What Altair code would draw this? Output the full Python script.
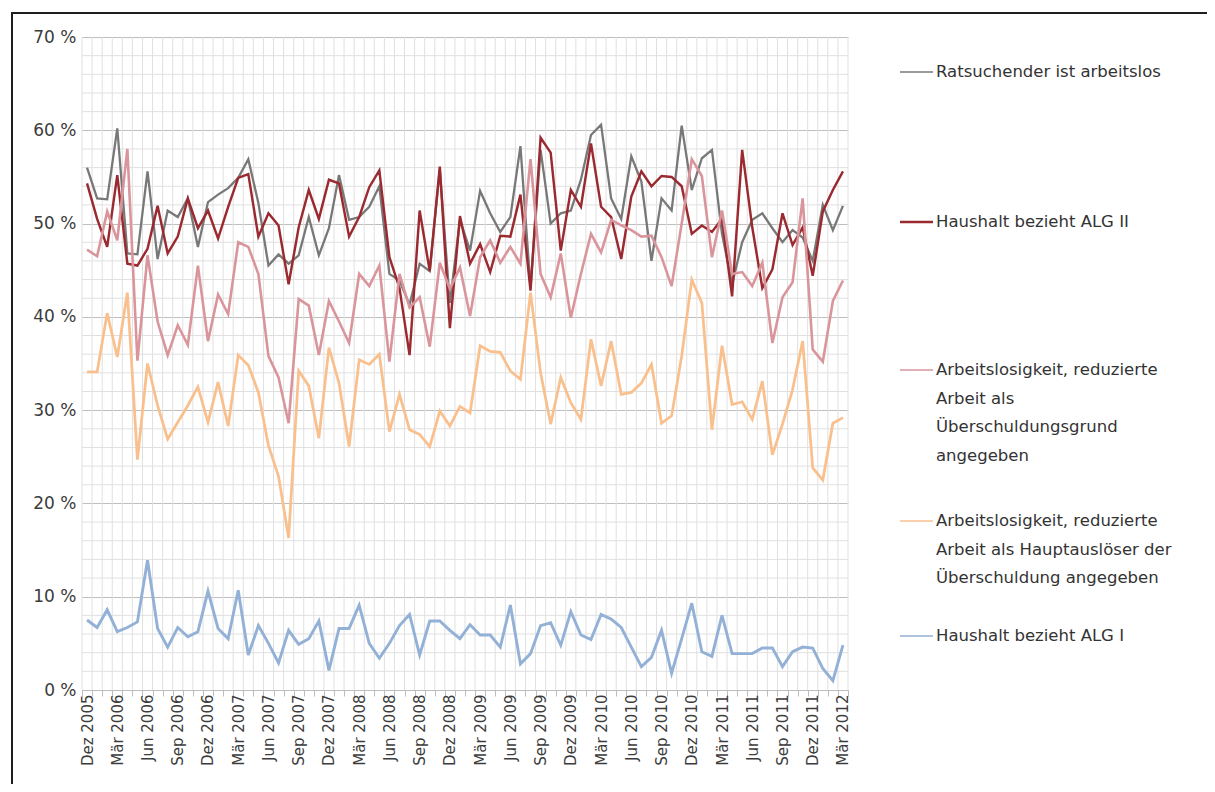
import json
import altair as alt
import pandas as pd

# ---------------- data ----------------
series_names = [
    "Ratsuchender ist arbeitslos",
    "Haushalt bezieht ALG II",
    "Arbeitslosigkeit, reduzierte Arbeit als Überschuldungsgrund angegeben",
    "Arbeitslosigkeit, reduzierte Arbeit als Hauptauslöser der Überschuldung angegeben",
    "Haushalt bezieht ALG I",
]
legend_texts = [
    "Ratsuchender ist arbeitslos",
    "Haushalt bezieht ALG II",
    "Arbeitslosigkeit, reduzierte\nArbeit als\nÜberschuldungsgrund\nangegeben",
    "Arbeitslosigkeit, reduzierte\nArbeit als Hauptauslöser der\nÜberschuldung angegeben",
    "Haushalt bezieht ALG I",
]
colors = ["#787878", "#9b2a30", "#d9959b", "#f9c08e", "#93b1d6"]
widths = [2.3, 2.9, 2.3, 2.3, 2.3]
legend_widths = [1.5, 2.6, 1.5, 1.5, 1.5]

# x-axis tick labels (every third month, Dez 2005 ... Mär 2012)
axis_labels = [
    "Dez 2005", "Mär 2006", "Jun 2006", "Sep 2006", "Dez 2006", "Mär 2007",
    "Jun 2007", "Sep 2007", "Dez 2007", "Mär 2008", "Jun 2008", "Sep 2008",
    "Dez 2008", "Mär 2009", "Jun 2009", "Sep 2009", "Dez 2009", "Mär 2010",
    "Jun 2010", "Sep 2010", "Dez 2010", "Mär 2011", "Jun 2011", "Sep 2011",
    "Dez 2011", "Mär 2012",
]

ratsuchender = [
    56.0, 52.7, 52.6, 60.2, 46.8, 46.7, 55.6, 46.2, 51.4, 50.7, 52.7, 47.5,
    52.3, 53.1, 53.8, 54.9, 56.9, 52.2, 45.5, 46.7, 45.7, 46.6, 50.7, 46.6,
    49.5, 55.2, 50.4, 50.7, 51.8, 54.0, 44.6, 43.9, 41.3, 45.7, 44.9, 55.8,
    41.5, 50.4, 47.1, 53.5, 51.1, 49.1, 50.7, 58.3, 43.1, 57.9, 50.0, 51.1,
    51.4, 54.7, 59.5, 60.6, 52.7, 50.5, 57.2, 54.5, 46.0, 52.7, 51.4, 60.5,
    53.6, 57.0, 57.9, 48.9, 43.5, 48.0, 50.4, 51.1, 49.5, 48.0, 49.3, 48.5,
    46.0, 52.0, 49.3, 51.9,
]
alg2 = [
    54.3, 50.5, 47.5, 55.2, 45.7, 45.5, 47.3, 51.9, 46.8, 48.6, 52.7, 49.5,
    51.4, 48.4, 51.8, 54.9, 55.3, 48.6, 51.1, 49.8, 43.5, 49.6, 53.6, 50.5,
    54.7, 54.3, 48.6, 50.7, 53.9, 55.7, 46.4, 43.1, 35.9, 51.4, 44.9, 56.1,
    38.8, 50.8, 45.7, 47.8, 44.8, 48.7, 48.6, 53.1, 42.8, 59.2, 57.6, 47.1,
    53.6, 51.8, 58.6, 51.8, 50.7, 46.2, 52.9, 55.6, 54.0, 55.1, 55.0, 54.0,
    48.9, 49.8, 49.1, 50.5, 42.2, 57.9, 49.6, 43.1, 45.1, 51.1, 47.7, 49.6,
    44.4, 51.3, 53.6, 55.6,
]
grund = [
    47.2, 46.5, 51.3, 48.2, 58.0, 35.3, 46.6, 39.5, 35.9, 39.1, 37.0, 45.5,
    37.4, 42.4, 40.3, 48.0, 47.5, 44.6, 35.8, 33.5, 28.6, 41.9, 41.2, 35.9,
    41.7, 39.5, 37.2, 44.6, 43.3, 45.5, 35.2, 44.6, 41.0, 42.1, 36.8, 45.8,
    43.0, 45.3, 40.1, 46.4, 48.2, 45.8, 47.5, 45.7, 56.9, 44.6, 42.1, 46.8,
    39.9, 44.6, 48.9, 46.9, 50.4, 49.8, 49.3, 48.6, 48.7, 46.4, 43.3, 50.0,
    56.9, 55.1, 46.4, 51.4, 44.6, 44.8, 43.3, 45.8, 37.2, 42.1, 43.7, 52.7,
    36.5, 35.2, 41.7, 43.9,
]
ausloeser = [
    34.1, 34.1, 40.4, 35.7, 42.6, 24.7, 35.0, 30.5, 26.9, 28.7, 30.5, 32.5,
    28.7, 33.0, 28.3, 35.9, 34.8, 31.9, 26.2, 22.9, 16.3, 34.2, 32.6, 27.0,
    36.7, 32.9, 26.1, 35.4, 34.9, 36.0, 27.7, 31.7, 27.9, 27.4, 26.1, 29.9,
    28.3, 30.4, 29.7, 36.9, 36.3, 36.2, 34.2, 33.3, 42.6, 34.0, 28.5, 33.5,
    30.8, 29.0, 37.6, 32.6, 37.4, 31.7, 31.9, 32.9, 34.9, 28.6, 29.4, 35.8,
    44.0, 41.5, 27.9, 36.9, 30.6, 30.9, 29.0, 33.1, 25.2, 28.5, 32.2, 37.4,
    23.8, 22.5, 28.6, 29.2,
]
alg1 = [
    7.5, 6.7, 8.6, 6.25, 6.7, 7.3, 13.9, 6.6, 4.6, 6.7, 5.7, 6.25,
    10.6, 6.6, 5.5, 10.7, 3.75, 6.9, 5.0, 2.9, 6.4, 4.9, 5.5, 7.4,
    2.1, 6.6, 6.6, 9.1, 5.0, 3.4, 5.0, 6.9, 8.1, 3.75, 7.4, 7.4,
    6.4, 5.5, 7.0, 5.9, 5.9, 4.6, 9.1, 2.8, 3.9, 6.9, 7.2, 4.8,
    8.4, 5.9, 5.4, 8.1, 7.6, 6.7, 4.6, 2.5, 3.5, 6.4, 1.8, 5.5,
    9.3, 4.1, 3.6, 8.0, 3.9, 3.9, 3.9, 4.5, 4.5, 2.5, 4.1, 4.6,
    4.5, 2.3, 1.0, 4.8,
]
all_series = [ratsuchender, alg2, grund, ausloeser, alg1]
n_months = len(alg1)

rows = []
for name, vals in zip(series_names, all_series):
    for i, v in enumerate(vals):
        rows.append({"idx": i, "value": v, "series": name})
df = pd.DataFrame(rows)

bounds_df = pd.DataFrame({"b": [i - 0.5 for i in range(n_months + 1)]})
minor_df = pd.DataFrame({"v": [v for v in range(2, 70, 2) if v % 10 != 0]})

# ---------------- layout ----------------
W, H = 766, 653
FONT = "DejaVu Sans"
TXT = "#3c3c3c"

xscale = alt.Scale(domain=[-0.5, n_months - 0.5], nice=False, zero=False)
yscale = alt.Scale(domain=[0, 70], nice=False)

label_expr = json.dumps(axis_labels, ensure_ascii=False) + "[round(datum.value / 3)]"

y_axis = alt.Axis(values=list(range(0, 71, 10)), labelExpr="datum.value + ' %'",
                  labelFont=FONT, labelFontSize=17, labelColor=TXT,
                  labelPadding=6, grid=True, gridColor="#bebebe",
                  gridWidth=1.2, ticks=False, domain=False, title=None,
                  orient="left")

minor_grid = alt.Chart(minor_df).mark_rule(color="#e0e0e0", strokeWidth=1).encode(
    y=alt.Y("v:Q", scale=yscale, axis=y_axis)
)

vert_grid = alt.Chart(bounds_df).mark_rule(color="#e0e0e0", strokeWidth=1).encode(
    x=alt.X(
        "b:Q", scale=xscale,
        axis=alt.Axis(values=bounds_df["b"].tolist(), labels=False, grid=False,
                      ticks=True, tickSize=6, tickColor="#bdbdbd", domain=True,
                      domainColor="#bdbdbd", title=None, orient="bottom"),
    )
)

lines = alt.Chart(df).mark_line(strokeJoin="miter").encode(
    x=alt.X(
        "idx:Q", scale=xscale,
        axis=alt.Axis(values=list(range(0, n_months, 3)), labelExpr=label_expr,
                      labelAngle=270, labelFont=FONT, labelFontSize=15,
                      labelColor=TXT, labelPadding=4, grid=False, ticks=False,
                      domain=False, title=None, labelOverlap=False,
                      orient="bottom"),
    ),
    y=alt.Y("value:Q", scale=yscale, axis=y_axis),
    color=alt.Color("series:N", scale=alt.Scale(domain=series_names, range=colors),
                    legend=None),
    strokeWidth=alt.StrokeWidth("series:N",
                                scale=alt.Scale(domain=series_names, range=widths),
                                legend=None),
)

one = pd.DataFrame({"k": [0]})
frame_left = alt.Chart(one).mark_rule(color="#1e1e1e", strokeWidth=2).encode(
    x=alt.value(-70), y=alt.value(-24), y2=alt.value(H + 110)
)
frame_top = alt.Chart(one).mark_rule(color="#1e1e1e", strokeWidth=2).encode(
    x=alt.value(-71), x2=alt.value(W + 360), y=alt.value(-24)
)

legend_y = [35, 185, 333, 484, 599]
legend_layers = []
for name, txt, col, wd, ly in zip(series_names, legend_texts, colors, legend_widths, legend_y):
    ldf = pd.DataFrame({"label": [txt]})
    legend_layers.append(
        alt.Chart(ldf).mark_rule(color=col, strokeWidth=wd).encode(
            x=alt.value(818), x2=alt.value(851), y=alt.value(ly)
        )
    )
    legend_layers.append(
        alt.Chart(ldf).mark_text(align="left", baseline="top", font=FONT,
                                 fontSize=16.5, color="#333333", lineBreak="\n",
                                 lineHeight=28.5).encode(
            text="label:N", x=alt.value(854), y=alt.value(ly - 8)
        )
    )

chart = alt.layer(
    minor_grid, vert_grid, lines, frame_left, frame_top, *legend_layers
).resolve_axis(x="independent").properties(
    width=W, height=H,
    autosize=alt.AutoSizeParams(type="none"),
    padding={"left": 74, "top": 29, "right": 359, "bottom": 94},
    background="white",
).configure_view(stroke=None)

chart.save("out.html", embed_options={"renderer": "svg", "actions": False})
